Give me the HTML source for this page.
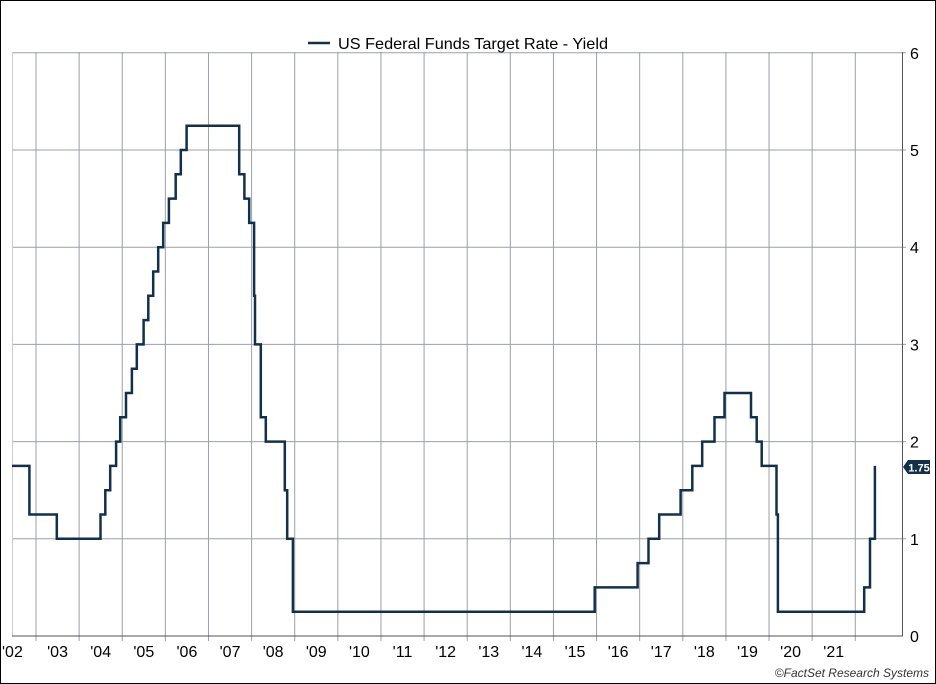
<!DOCTYPE html>
<html><head><meta charset="utf-8"><style>
body{margin:0;background:#fff}
svg{display:block;font-family:"Liberation Sans",Arial,sans-serif}
</style></head><body>
<svg id="s" width="936" height="684" viewBox="0 0 936 684" xmlns="http://www.w3.org/2000/svg">
<rect x="0.5" y="0.5" width="935" height="683" fill="#fff" stroke="#000"/>
<g id="grid"></g>
<line x1="12" y1="636" x2="903" y2="636" stroke="#555" stroke-width="1"/>
<line x1="902.5" y1="52" x2="902.5" y2="636" stroke="#555" stroke-width="1"/>
<line x1="308" y1="43" x2="330" y2="43" stroke="#13304a" stroke-width="2.5"/>
<text x="338" y="49" font-size="16" fill="#000" textLength="270" lengthAdjust="spacingAndGlyphs">US Federal Funds Target Rate - Yield</text>
<path id="p" fill="none" stroke="#13304a" stroke-width="2.5" stroke-linejoin="miter"/>
<path d="M903 467 L908 460 H930 V474 H908 Z" fill="#13304a"/>
<text x="919" y="471.5" font-size="11" font-weight="bold" fill="#fff" text-anchor="middle">1.75</text>
<text x="929" y="677" font-size="12" font-style="italic" fill="#333" text-anchor="end">©FactSet Research Systems</text>
</svg>
<script>
var X=function(t){return 36+(t-2003)*43.12};
var Y=function(v){return 636-97.2*v};
var g='';
for(var i=1;i<=6;i++){var y=Y(i);g+='<line x1="12" y1="'+y+'" x2="906" y2="'+y+'" stroke="#9aa0a6" stroke-width="1"/>';
g+='<text x="910" y="'+(y+6)+'" font-size="16" fill="#000">'+i+'</text>';}
g+='<text x="910" y="642" font-size="16" fill="#000">0</text>';
g+='<line x1="12.5" y1="52" x2="12.5" y2="636" stroke="#ccc"/>';
for(var yr=2003;yr<=2022;yr++){var x=X(yr);g+='<line x1="'+x+'" y1="52" x2="'+x+'" y2="641" stroke="#9aa0a6" stroke-width="1"/>';}
var labs=["'02","'03","'04","'05","'06","'07","'08","'09","'10","'11","'12","'13","'14","'15","'16","'17","'18","'19","'20","'21"];
for(var k=0;k<labs.length;k++){var cx=X(2002.5+k);if(k==0)cx=2;g+='<text x="'+cx+'" y="657" font-size="16" fill="#000" text-anchor="'+(k==0?'start':'middle')+'">'+labs[k]+'</text>';}
document.getElementById('grid').innerHTML=g;
function d(y,m,dd){return y+(m-1)/12+(dd-1)/365}
var ev=[[d(2002,11,6),1.25],[d(2003,6,25),1],[d(2004,6,30),1.25],[d(2004,8,10),1.5],[d(2004,9,21),1.75],[d(2004,11,10),2],[d(2004,12,14),2.25],[d(2005,2,2),2.5],[d(2005,3,22),2.75],[d(2005,5,3),3],[d(2005,6,30),3.25],[d(2005,8,9),3.5],[d(2005,9,20),3.75],[d(2005,11,1),4],[d(2005,12,13),4.25],[d(2006,1,31),4.5],[d(2006,3,28),4.75],[d(2006,5,10),5],[d(2006,6,29),5.25],[d(2007,9,18),4.75],[d(2007,10,31),4.5],[d(2007,12,11),4.25],[d(2008,1,22),3.5],[d(2008,1,30),3],[d(2008,3,18),2.25],[d(2008,4,30),2],[d(2008,10,8),1.5],[d(2008,10,29),1],[d(2008,12,16),0.25],[d(2015,12,16),0.5],[d(2016,12,14),0.75],[d(2017,3,15),1],[d(2017,6,14),1.25],[d(2017,12,13),1.5],[d(2018,3,21),1.75],[d(2018,6,13),2],[d(2018,9,26),2.25],[d(2018,12,19),2.5],[d(2019,7,31),2.25],[d(2019,9,18),2],[d(2019,10,30),1.75],[d(2020,3,3),1.25],[d(2020,3,15),0.25],[d(2022,3,16),0.5],[d(2022,5,4),1],[d(2022,6,15),1.75]];
var p='M12 '+Y(1.75).toFixed(1);
for(var j=0;j<ev.length;j++){var x=X(ev[j][0]).toFixed(1);p+=' H'+x+' V'+Y(ev[j][1]).toFixed(1);}
document.getElementById('p').setAttribute('d',p);
</script>
</body></html>
